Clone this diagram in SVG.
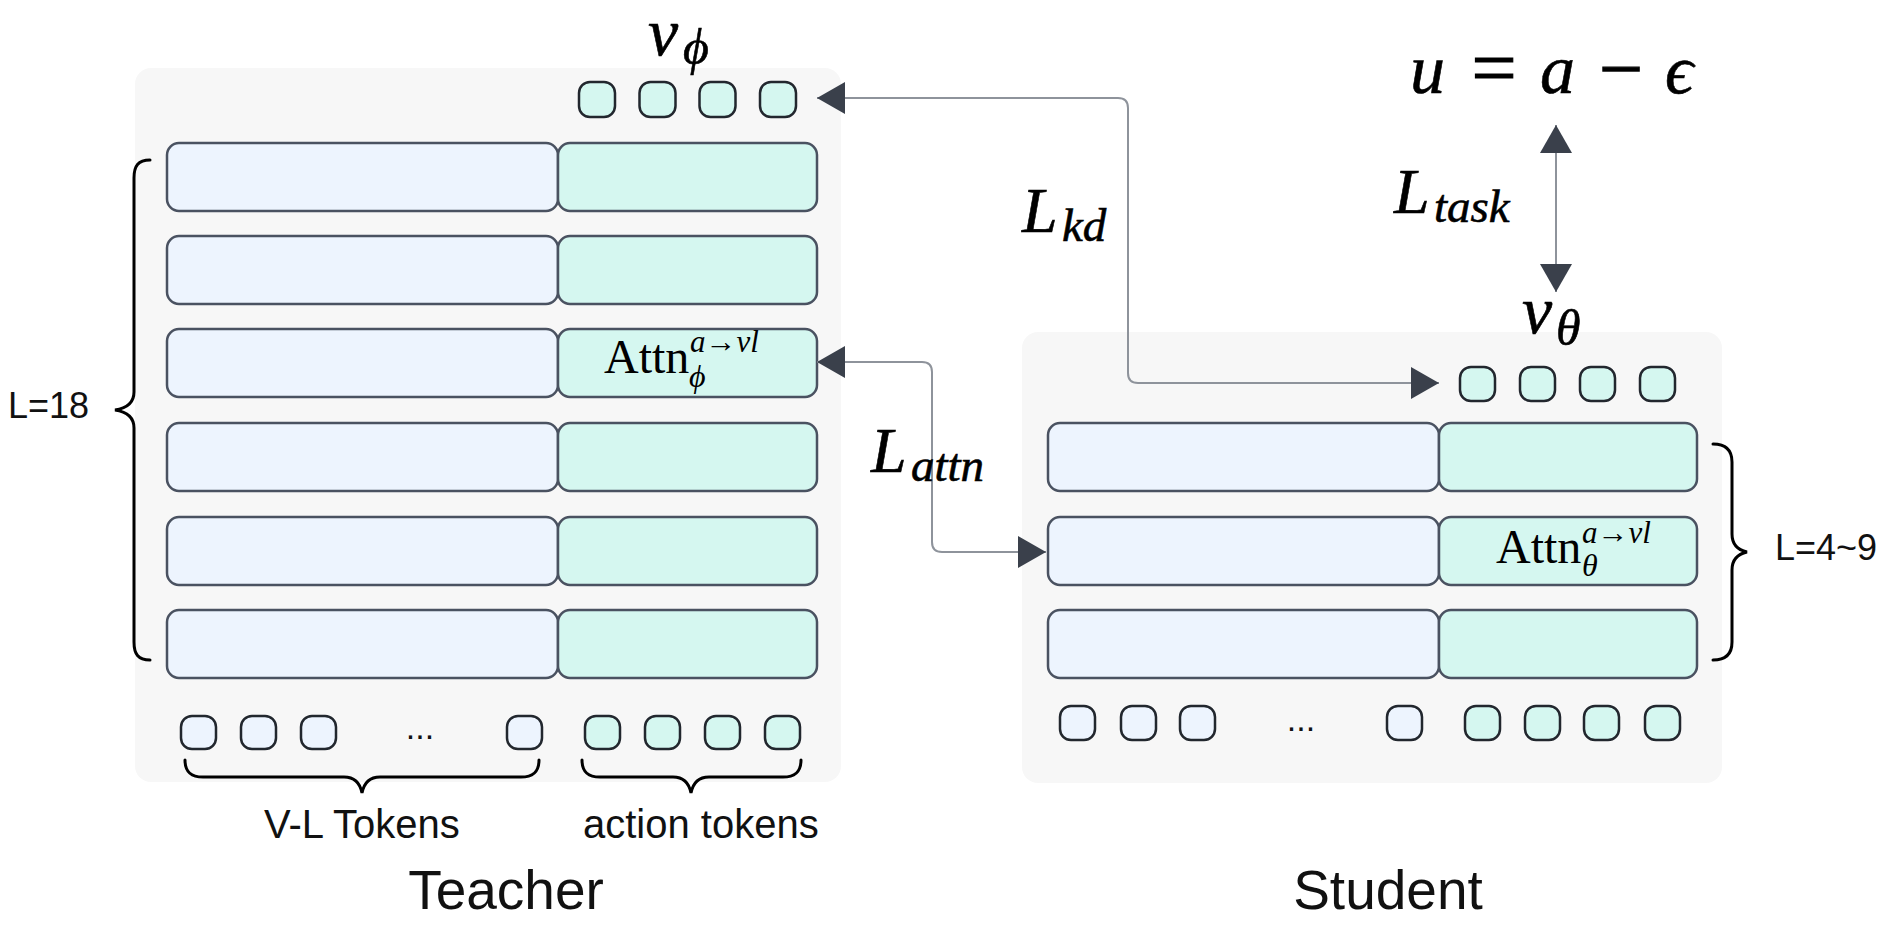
<svg xmlns="http://www.w3.org/2000/svg" width="1893" height="947" viewBox="0 0 1893 947">
<defs>
<style>
.panel{fill:#f7f7f7;stroke:none}
.vl{fill:#edf4fe;stroke:#4a5261;stroke-width:2.5}
.act{fill:#d5f7f0;stroke:#4a5261;stroke-width:2.5}
.tv{fill:#edf4fe;stroke:#22272e;stroke-width:2.5}
.ta{fill:#d5f7f0;stroke:#22272e;stroke-width:2.5}
.brace{fill:none;stroke:#000;stroke-width:3;stroke-linecap:round}
.conn{fill:none;stroke:#8e939b;stroke-width:2}
.sans{font-family:"Liberation Sans",Arial,sans-serif;fill:#111}
.math{font-family:"Liberation Serif","DejaVu Serif",serif;font-style:italic;fill:#000;stroke:#000;stroke-width:0.6}
.mi{font-family:"Liberation Serif","DejaVu Serif",serif;font-style:italic;fill:#000}
.rm{font-family:"Liberation Serif","DejaVu Serif",serif;font-style:normal;fill:#000}
.op{font-family:"Liberation Serif","DejaVu Serif",serif;font-style:normal;fill:#000;stroke:#000;stroke-width:1.2}
</style>
<marker id="arr" viewBox="0 0 28 32" markerWidth="28" markerHeight="32" refX="28" refY="16" markerUnits="userSpaceOnUse" orient="auto-start-reverse">
<path d="M0,0 L28,16 L0,32 Z" fill="#3a404b"/>
</marker>
</defs>
<rect width="1893" height="947" fill="#ffffff"/>

<g id="teacher">
<rect class="panel" x="135" y="68" width="706" height="714" rx="16"/>
<g id="teacher-out-tokens">
<rect class="ta" x="579" y="82" width="36" height="35" rx="11"/>
<rect class="ta" x="639.5" y="82" width="36" height="35" rx="11"/>
<rect class="ta" x="699.5" y="82" width="36" height="35" rx="11"/>
<rect class="ta" x="760" y="82" width="36" height="35" rx="11"/>
</g>
<g id="teacher-layers">
<rect class="vl" x="167" y="143" width="391" height="68" rx="12"/><rect class="act" x="558" y="143" width="259" height="68" rx="12"/>
<rect class="vl" x="167" y="236" width="391" height="68" rx="12"/><rect class="act" x="558" y="236" width="259" height="68" rx="12"/>
<rect class="vl" x="167" y="329" width="391" height="68" rx="12"/><rect class="act" x="558" y="329" width="259" height="68" rx="12"/>
<rect class="vl" x="167" y="423" width="391" height="68" rx="12"/><rect class="act" x="558" y="423" width="259" height="68" rx="12"/>
<rect class="vl" x="167" y="517" width="391" height="68" rx="12"/><rect class="act" x="558" y="517" width="259" height="68" rx="12"/>
<rect class="vl" x="167" y="610" width="391" height="68" rx="12"/><rect class="act" x="558" y="610" width="259" height="68" rx="12"/>
</g>
<text class="rm" x="604" y="373" font-size="48">Attn</text>
<text class="rm" x="690" y="352" font-size="31"><tspan font-style="italic">a</tspan>→<tspan font-style="italic">vl</tspan></text>
<text class="mi" x="689" y="387" font-size="32">ϕ</text>
<g id="teacher-in-tokens">
<rect class="tv" x="181" y="716" width="35" height="33" rx="11"/>
<rect class="tv" x="241" y="716" width="35" height="33" rx="11"/>
<rect class="tv" x="301" y="716" width="35" height="33" rx="11"/>
<text class="sans" x="420" y="739" font-size="34" text-anchor="middle">...</text>
<rect class="tv" x="507" y="716" width="35" height="33" rx="11"/>
<rect class="ta" x="585" y="716" width="35" height="33" rx="11"/>
<rect class="ta" x="645" y="716" width="35" height="33" rx="11"/>
<rect class="ta" x="705" y="716" width="35" height="33" rx="11"/>
<rect class="ta" x="765" y="716" width="35" height="33" rx="11"/>
</g>
<path class="brace" d="M150 160 C138 160 134 166 134 178 V392 C134 402 128 408 115 410 C128 412 134 418 134 428 V642 C134 654 138 660 150 660"/>
<path class="brace" d="M185 760 C185 772 191 777 203 777 H344 C354 777 360 783 362 793 C364 783 370 777 380 777 H521 C533 777 539 772 539 760"/>
<path class="brace" d="M582 760 C582 772 588 777 600 777 H673 C683 777 689 783 691 793 C693 783 699 777 709 777 H783 C795 777 801 772 801 760"/>
<text class="sans" x="8" y="418" font-size="36">L=18</text>
<text class="sans" x="264" y="838" font-size="40">V-L Tokens</text>
<text class="sans" x="583" y="838" font-size="40">action tokens</text>
<text class="sans" x="506" y="909" font-size="55" text-anchor="middle">Teacher</text>
<text class="math" x="648" y="55" font-size="68">v</text>
<text class="math" x="683" y="64" font-size="50">ϕ</text>
</g>

<g id="student">
<rect class="panel" x="1022" y="332" width="700" height="451" rx="16"/>
<g id="student-out-tokens">
<rect class="ta" x="1460" y="367" width="35" height="34" rx="11"/>
<rect class="ta" x="1520" y="367" width="35" height="34" rx="11"/>
<rect class="ta" x="1580" y="367" width="35" height="34" rx="11"/>
<rect class="ta" x="1640" y="367" width="35" height="34" rx="11"/>
</g>
<g id="student-layers">
<rect class="vl" x="1048" y="423" width="391" height="68" rx="12"/><rect class="act" x="1439" y="423" width="258" height="68" rx="12"/>
<rect class="vl" x="1048" y="517" width="391" height="68" rx="12"/><rect class="act" x="1439" y="517" width="258" height="68" rx="12"/>
<rect class="vl" x="1048" y="610" width="391" height="68" rx="12"/><rect class="act" x="1439" y="610" width="258" height="68" rx="12"/>
</g>
<text class="rm" x="1496" y="563" font-size="48">Attn</text>
<text class="rm" x="1582" y="543" font-size="31"><tspan font-style="italic">a</tspan>→<tspan font-style="italic">vl</tspan></text>
<text class="mi" x="1582" y="576" font-size="32">θ</text>
<g id="student-in-tokens">
<rect class="tv" x="1060" y="706" width="35" height="34" rx="11"/>
<rect class="tv" x="1121" y="706" width="35" height="34" rx="11"/>
<rect class="tv" x="1180" y="706" width="35" height="34" rx="11"/>
<text class="sans" x="1301" y="731" font-size="34" text-anchor="middle">...</text>
<rect class="tv" x="1387" y="706" width="35" height="34" rx="11"/>
<rect class="ta" x="1465" y="706" width="35" height="34" rx="11"/>
<rect class="ta" x="1525" y="706" width="35" height="34" rx="11"/>
<rect class="ta" x="1584" y="706" width="35" height="34" rx="11"/>
<rect class="ta" x="1645" y="706" width="35" height="34" rx="11"/>
</g>
<path class="brace" d="M1713 444 C1726 444 1732 450 1732 462 V534 C1732 544 1738 550 1747 552 C1738 554 1732 560 1732 570 V642 C1732 654 1726 660 1713 660"/>
<text class="sans" x="1775" y="560" font-size="36">L=4~9</text>
<text class="sans" x="1388" y="909" font-size="55" text-anchor="middle">Student</text>
<text class="math" x="1522" y="333" font-size="68">v</text>
<text class="math" x="1556" y="345" font-size="50">θ</text>
</g>

<g id="target">
<text class="math" x="1410" y="93" font-size="70">u</text>
<text class="op" x="1494" y="95" font-size="80" text-anchor="middle">=</text>
<text class="math" x="1540" y="93" font-size="70">a</text>
<text class="op" x="1621" y="95" font-size="78" text-anchor="middle">−</text>
<text class="math" x="1665" y="93" font-size="70">ϵ</text>
</g>

<g id="connectors">
<path class="conn" d="M817 98 H1118 Q1128 98 1128 108 V373 Q1128 383 1138 383 H1439" marker-start="url(#arr)" marker-end="url(#arr)"/>
<path class="conn" d="M817 362 H922 Q932 362 932 372 V542 Q932 552 942 552 H1046" marker-start="url(#arr)" marker-end="url(#arr)"/>
<path class="conn" d="M1556 125 V292" marker-start="url(#arr)" marker-end="url(#arr)"/>
<text class="math" x="1022" y="232" font-size="64">L</text>
<text class="math" x="1062" y="241" font-size="47">kd</text>
<text class="math" x="871" y="472" font-size="64">L</text>
<text class="math" x="911" y="481" font-size="47">attn</text>
<text class="math" x="1394" y="213" font-size="64">L</text>
<text class="math" x="1434" y="222" font-size="47">task</text>
</g>
</svg>
